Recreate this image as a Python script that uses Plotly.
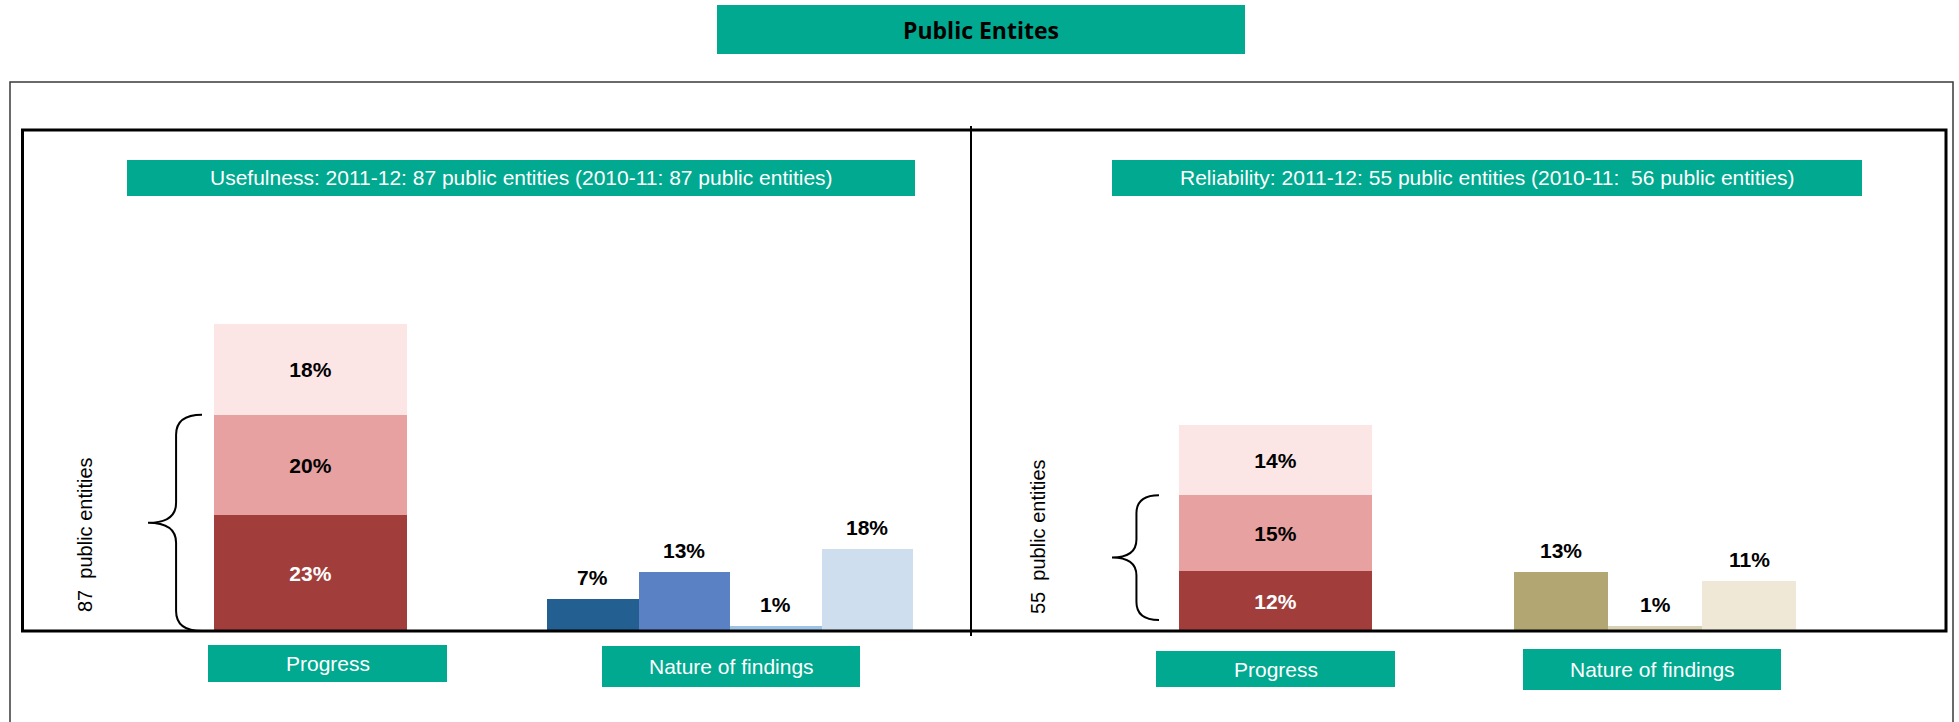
import plotly.graph_objects as go

W, H = 1959, 722

# ---- data -------------------------------------------------------------
chart_title = "Public Entites"
panel_titles = [
    "Usefulness: 2011-12: 87 public entities (2010-11: 87 public entities)",
    "Reliability: 2011-12: 55 public entities (2010-11:  56 public entities)",
]
category_labels = ["Progress", "Nature of findings"]
entity_counts = [87, 55]

# stacked "Progress" bars, one list per stack level, [usefulness, reliability]
progress_bottom = [23, 12]
progress_middle = [20, 15]
progress_top = [18, 14]
progress_colors = ["#A13E3C", "#E6A1A0", "#FCE6E5"]
progress_text_colors = ["white", "black", "black"]

findings_usefulness = [7, 13, 1, 18]
findings_usefulness_colors = ["#245F92", "#5A81C4", "#9EC1E6", "#CFDEEF"]
findings_reliability = [13, 1, 11]
findings_reliability_colors = ["#B2A773", "#D8D1B2", "#EFE8D7"]

# ---- layout geometry (pixels) ------------------------------------------
TEAL = "#00A98F"
FONT = "Liberation Sans, Arial, sans-serif"
BASE = 631            # baseline of both panels
PROG_PX = 5.03        # pixels per percentage point, progress bars
FIND_PX = 4.55        # pixels per percentage point, findings bars

prog_centers = [310.5, 1275]
prog_width = 193
find_left_start, find_left_w = 547, 91.5
find_right_start, find_right_w = 1514, 94


def px(x):
    return x / W


def py(y):
    return 1 - y / H


fig = go.Figure()

# progress stacks
levels = [progress_bottom, progress_middle, progress_top]
for vals, col, tcol in zip(levels, progress_colors, progress_text_colors):
    fig.add_trace(go.Bar(
        x=prog_centers, y=vals, width=prog_width,
        marker=dict(color=col, line=dict(width=0)),
        text=[f"<b>{v}%</b>" for v in vals],
        textposition="inside", insidetextanchor="middle",
        textangle=0, constraintext="none",
        textfont=dict(family=FONT, size=21, color=tcol),
        xaxis="x", yaxis="y", showlegend=False, hoverinfo="skip",
    ))

# findings bars
find_sets = [
    (findings_usefulness, findings_usefulness_colors, find_left_start, find_left_w),
    (findings_reliability, findings_reliability_colors, find_right_start, find_right_w),
]
annotations = []
for vals, cols, start, w in find_sets:
    centers = [start + w * (i + 0.5) for i in range(len(vals))]
    fig.add_trace(go.Bar(
        x=centers, y=vals, width=w,
        marker=dict(color=cols, line=dict(width=0)),
        xaxis="x", yaxis="y2", showlegend=False, hoverinfo="skip",
    ))
    for c, v in zip(centers, vals):
        annotations.append(dict(
            x=c, y=v, xref="x", yref="y2", yanchor="bottom", yshift=8,
            text=f"<b>{v}%</b>", showarrow=False,
            font=dict(family=FONT, size=21, color="black"),
        ))

shapes = []

# outer and inner frames, panel divider
shapes.append(dict(type="rect", xref="paper", yref="paper",
                   x0=px(10), x1=px(1953), y0=py(82), y1=py(780),
                   line=dict(color="#3a3a3a", width=1.5), layer="above"))
shapes.append(dict(type="rect", xref="paper", yref="paper",
                   x0=px(22.5), x1=px(1946), y0=py(130), y1=py(BASE),
                   line=dict(color="black", width=3), layer="above"))
shapes.append(dict(type="line", xref="paper", yref="paper",
                   x0=px(971), x1=px(971), y0=py(126), y1=py(636),
                   line=dict(color="black", width=2), layer="above"))


def teal_box(x0, x1, y0, y1, text, size, color, bold=False, family=FONT):
    shapes.append(dict(type="rect", xref="paper", yref="paper",
                       x0=px(x0), x1=px(x1), y0=py(y1), y1=py(y0),
                       fillcolor=TEAL, line=dict(width=0), layer="below"))
    annotations.append(dict(
        x=px((x0 + x1) / 2), y=py((y0 + y1) / 2), xref="paper", yref="paper",
        xanchor="center", yanchor="middle", showarrow=False,
        text=f"<b>{text}</b>" if bold else text,
        font=dict(family=family, size=size, color=color),
    ))


teal_box(717, 1245, 5, 54, chart_title, 23, "black", bold=True,
         family="Open Sans, Noto Sans, sans-serif")
teal_box(127, 915, 160, 196, panel_titles[0], 21, "white")
teal_box(1112, 1862, 160, 196, panel_titles[1], 21, "white")
teal_box(208, 447, 645, 682, category_labels[0], 21, "white")
teal_box(602, 860, 646, 687, category_labels[1], 21, "white")
teal_box(1156, 1395, 651, 687, category_labels[0], 21, "white")
teal_box(1523, 1781, 649, 690, category_labels[1], 21, "white")


def brace_path(x_end, x_tip, y_top, y_bot, r):
    xs = x_tip + 0.52 * (x_end - x_tip)
    ym = (y_top + y_bot) / 2
    pts = [
        ("M", [(x_end, y_top)]),
        ("Q", [(xs, y_top), (xs, y_top + r)]),
        ("L", [(xs, ym - r)]),
        ("Q", [(xs, ym), (x_tip, ym)]),
        ("Q", [(xs, ym), (xs, ym + r)]),
        ("L", [(xs, y_bot - r)]),
        ("Q", [(xs, y_bot), (x_end, y_bot)]),
    ]
    out = []
    for cmd, pp in pts:
        out.append(cmd + " " + " ".join(f"{px(a):.6f},{py(b):.6f}" for a, b in pp))
    return " ".join(out)


# braces spanning the two lower stack levels, with the entity count beside them
# (end x, tip x, bottom inset, corner radius, label centre x, label centre y)
brace_specs = [(202, 148, 0, 20, 85, 535), (1159, 1112, 11, 18, 1038, 537)]
for i, (xe, xt, inset, r, tx, ty) in enumerate(brace_specs):
    span = progress_bottom[i] + progress_middle[i]
    y_top = BASE - PROG_PX * span
    y_bot = BASE - inset
    shapes.append(dict(type="path", xref="paper", yref="paper",
                       path=brace_path(xe, xt, y_top, y_bot, r),
                       line=dict(color="black", width=2)))
    annotations.append(dict(
        x=px(tx), y=py(ty), xref="paper", yref="paper",
        xanchor="center", yanchor="middle", showarrow=False, textangle=-90,
        text=f"{entity_counts[i]}\u00a0 public entities",
        font=dict(family=FONT, size=20, color="black"),
    ))

fig.update_layout(
    width=W, height=H,
    margin=dict(l=0, r=0, t=0, b=0),
    paper_bgcolor="white", plot_bgcolor="rgba(0,0,0,0)",
    barmode="stack", bargap=0,
    xaxis=dict(domain=[0, 1], range=[0, W], visible=False, fixedrange=True),
    yaxis=dict(domain=[0, 1], range=[(BASE - H) / PROG_PX, BASE / PROG_PX],
               visible=False, fixedrange=True),
    yaxis2=dict(domain=[0, 1], range=[(BASE - H) / FIND_PX, BASE / FIND_PX],
                overlaying="y", visible=False, fixedrange=True),
    shapes=shapes,
    annotations=annotations,
)

fig.write_html("out.html", config={"displayModeBar": False})
